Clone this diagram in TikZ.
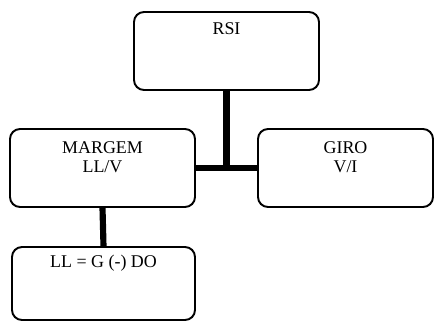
\documentclass[tikz,border=0pt]{standalone}
\usepackage{fontspec}
\setmainfont{Liberation Serif}
\usetikzlibrary{positioning,calc}

\begin{document}
\begin{tikzpicture}[caixa/.style={draw,rounded corners=0.2cm,line width=1.1pt,minimum height=1.56cm,inner sep=0pt},
    texto/.style={align=center,anchor=base,inner sep=0pt,font=\fontsize{10.2pt}{11pt}\selectfont},
    liga/.style={line width=3.5pt}]
    \useasboundingbox (0,0) rectangle (8.7,-6.4);
    \node[caixa,minimum width=3.70cm] (rsi) at (4.53,-1.02) {};
    \node[caixa,minimum width=3.70cm] (margem) at (2.05,-3.36) {};
    \node[caixa,minimum width=3.50cm] (giro) at (6.91,-3.36) {};
    \node[caixa,minimum width=3.66cm,minimum height=1.46cm] (ll) at (2.07,-5.67) {};
    % base of a two-line text is its last line
    \node[texto] (rsit) at ([yshift=-0.46cm]rsi.north) {RSI};
    \node[texto] (margemt) at ([yshift=-0.89cm]margem.north) {MARGEM\\LL/V};
    \node[texto] (girot) at ([yshift=-0.89cm]giro.north) {GIRO\\V/I};
    \node[texto] (llt) at ([yshift=-0.43cm]ll.north) {LL = G (-) DO};
    \coordinate (meio) at (rsi.south |- margem.east);
    \draw[liga] (margem.east)--(giro.west);
    \draw[liga] (rsi.south)--(meio);
    \draw[liga] (margem.south)--(ll.north);
  \end{tikzpicture}
\end{document}
